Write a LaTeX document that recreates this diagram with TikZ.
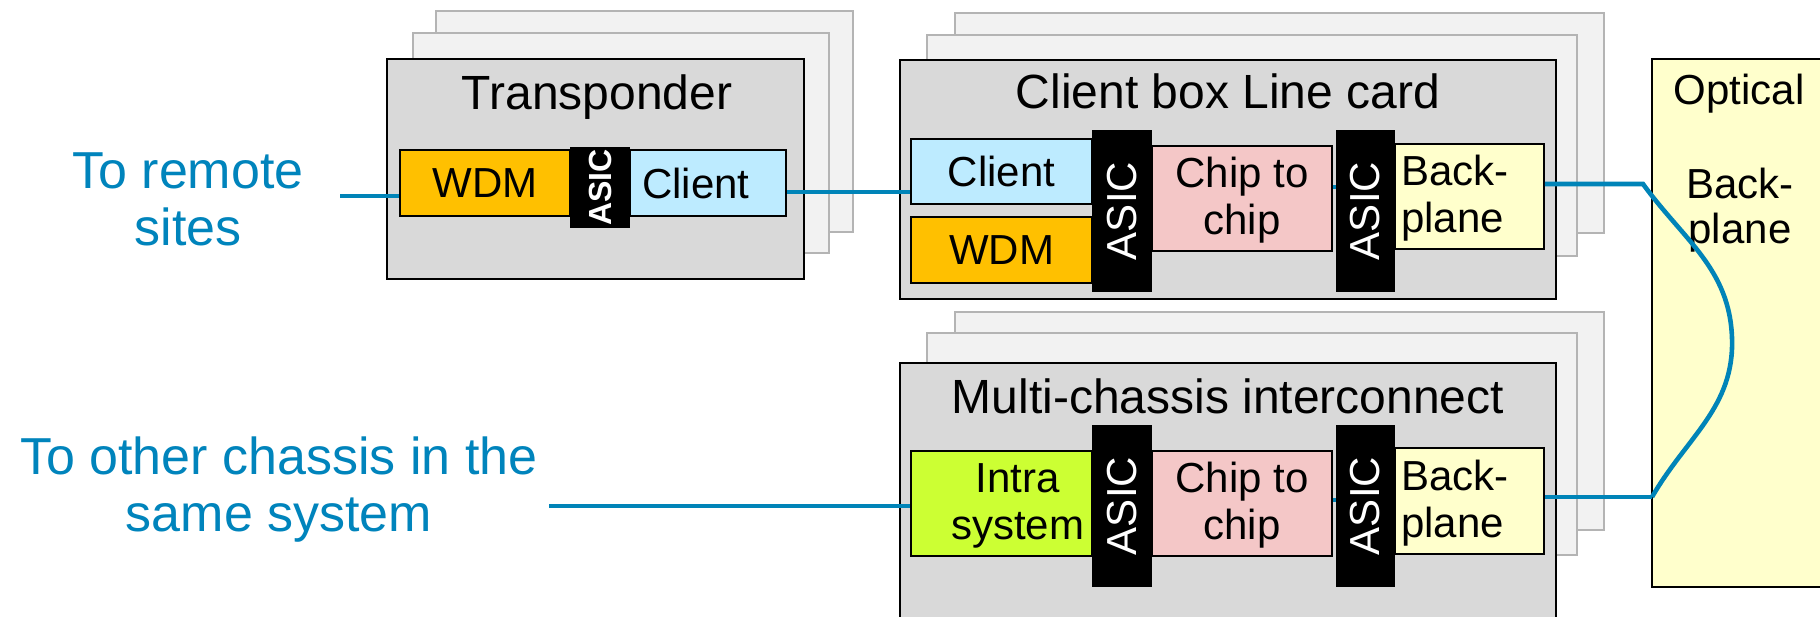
\documentclass[tikz,border=0pt]{standalone}
\usepackage{fontspec}
\setmainfont{Liberation Sans}
\definecolor{lineblue}{HTML}{0084B8}
\definecolor{textblue}{HTML}{0084BC}
\definecolor{backgray}{HTML}{B4B4B4}
\definecolor{backfill}{HTML}{F2F2F2}
\definecolor{maingray}{HTML}{D9D9D9}
\definecolor{wdmorange}{HTML}{FFC000}
\definecolor{clientblue}{HTML}{BDEBFF}
\definecolor{chippink}{HTML}{F4C7C7}
\definecolor{bpyellow}{HTML}{FFFFCC}
\definecolor{intragreen}{HTML}{CCFF33}
\tikzset{
  sz/.style 2 args={minimum width=#1, minimum height=#2},
  backbox/.style={draw=backgray, line width=1pt, fill=backfill, inner sep=0pt},
  mainbox/.style={draw=black, line width=1pt, fill=maingray, inner sep=0pt},
  inbox/.style={draw=black, line width=0.8pt, inner sep=0pt, align=center,
    font=\fontsize{21}{23.5}\selectfont},
  asicbox/.style={fill=black, text=white, inner sep=0pt,
    font=\fontsize{21}{23.5}\selectfont},
  asicsmall/.style={fill=black, text=white, inner sep=0pt,
    font=\fontsize{16}{18}\selectfont\bfseries},
  titletext/.style={anchor=base, inner sep=0pt, font=\fontsize{24}{28}\selectfont},
  sidetext/.style={text=textblue, inner sep=0pt, align=center,
    font=\fontsize{26}{28.5}\selectfont},
  conn/.style={draw=lineblue, line width=2.3pt},
}
\begin{document}
\begin{tikzpicture}[x=0.5pt,y=-0.5pt]
\useasboundingbox (0,0) rectangle (1820,616);
\clip (0,0) rectangle (1820,616);
\fill[white] (0,0) rectangle (1820,616);

% ---- Transponder
\node[backbox, sz={208.5pt}{110.5pt}] (tb2) at (644.5,121.5) {};
\node[backbox, sz={208pt}{110pt}] (tb1) at (621,143) {};
\node[mainbox, sz={208.5pt}{110pt}] (tmain) at (595.5,169) {};
\node[titletext] (ttitle) at (597,109) {Transponder};
\node[inbox, fill=wdmorange, sz={85pt}{33pt}] (twdm) at (485,183) {WDM};
\node[inbox, fill=clientblue, sz={78pt}{33pt}] (tclient) at (708,183) {Client\hspace*{12pt}};
\node[asicsmall, sz={30pt}{40.5pt}] (tasic) at (600,187.5) {\rotatebox{90}{ASIC}};

% ---- Client box Line card
\node[backbox, sz={324.5pt}{110pt}] (lb2) at (1279.5,123) {};
\node[backbox, sz={325pt}{110.5pt}] (lb1) at (1252,145.5) {};
\node[mainbox, sz={328pt}{119.5pt}] (lmain) at (1228,179.5) {};
\node[titletext] (ltitle) at (1228,108) {Client box Line card};
\node[inbox, fill=clientblue, sz={90.5pt}{32.5pt}] (lclient) at (1001.5,171.5) {Client};
\node[inbox, fill=wdmorange, sz={90.5pt}{33pt}] (lwdm) at (1001.5,250) {WDM};
\node[inbox, fill=chippink, sz={90pt}{52.5pt}] (lchip) at (1242,198.5) {\rule{0pt}{17pt}Chip to\\chip};
\node[inbox, fill=bpyellow, sz={74.5pt}{52.5pt}, inner xsep=3pt, text width=68.5pt, align=left] (lback) at (1469.5,196.5) {\rule{0pt}{17pt}Back-\\plane};
\node[asicbox, sz={30pt}{81pt}] (lasic1) at (1122,211) {\rotatebox{90}{ASIC}};
\node[asicbox, sz={29.5pt}{81pt}] (lasic2) at (1365.5,211) {\rotatebox{90}{ASIC}};

% ---- Multi-chassis interconnect
\node[backbox, sz={324.5pt}{109pt}] (mb2) at (1279.5,421) {};
\node[backbox, sz={325pt}{111pt}] (mb1) at (1252,444) {};
\node[mainbox, sz={328pt}{148.5pt}] (mmain) at (1228,511.5) {};
\node[titletext] (mtitle) at (1228,413) {Multi-chassis interconnect};
\node[inbox, fill=intragreen, sz={90.5pt}{52.5pt}] (mintra) at (1001.5,503.5) {\rule{0pt}{17pt}\hspace*{16pt}Intra\\\hspace*{16pt}system};
\node[inbox, fill=chippink, sz={90pt}{52.5pt}] (mchip) at (1242,503.5) {\rule{0pt}{17pt}Chip to\\chip};
\node[inbox, fill=bpyellow, sz={74.5pt}{53pt}, inner xsep=3pt, text width=68.5pt, align=left] (mback) at (1469.5,501) {\rule{0pt}{17pt}Back-\\plane};
\node[asicbox, sz={30pt}{81pt}] (masic1) at (1122,506) {\rotatebox{90}{ASIC}};
\node[asicbox, sz={29.5pt}{81pt}] (masic2) at (1365.5,506) {\rotatebox{90}{ASIC}};

% ---- Optical backplane
\node[draw=black, line width=1pt, fill=bpyellow, inner sep=0pt, sz={104pt}{264pt}] (optical) at (1756,323) {};
\node[anchor=base, inner sep=0pt, font=\fontsize{21}{23.5}\selectfont] (otitle) at (1739,104) {Optical};
\node[inner sep=0pt, align=center, font=\fontsize{21}{22.5}\selectfont] (oback) at (1740,210) {Back-\\plane};

% ---- side texts
\node[sidetext] (remote) at (188,199) {To remote\\sites};
\node[sidetext] (other) at (279,490) {To other chassis in the\\same system};

% ---- connectors
\coordinate (rs) at (340,196);
\coordinate (oc) at (549,506);
\coordinate (ly) at (0,192);
\coordinate (cy) at (0,187);
\coordinate (my) at (0,500);
\coordinate (bend) at (1643,184);
\coordinate (apex) at (1732,338);
\coordinate (oend) at (1652,497);

\draw[conn] (rs) -- (rs -| twdm.west);
\draw[conn] (ly -| tclient.east) -- (ly -| lclient.west);
\draw[conn] (cy -| lchip.east) -- (cy -| lasic2.west);
\draw[conn] (bend -| lback.east) -- (bend) to[out=-54,in=92] (apex) to[out=-88,in=60] (oend);
\draw[conn] (oend -| mback.east) -- (oend);
\draw[conn] (my -| mchip.east) -- (my -| masic2.west);
\draw[conn] (oc) -- (oc -| mintra.west);
\end{tikzpicture}
\end{document}
